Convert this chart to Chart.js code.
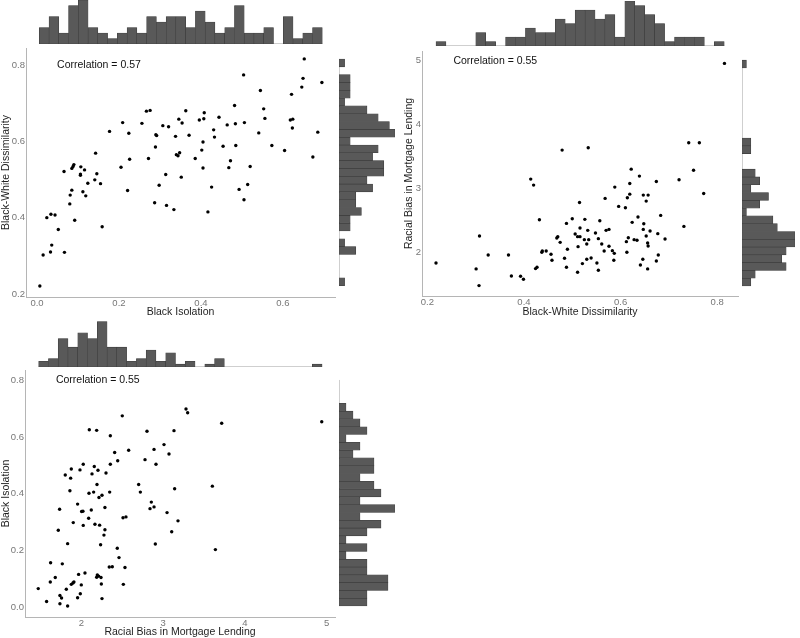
<!DOCTYPE html>
<html><head><meta charset="utf-8">
<script src="https://cdn.jsdelivr.net/npm/chart.js@4.4.1/dist/chart.umd.min.js"></script>
<style>
html,body{margin:0;padding:0;background:#fff;}
body{width:800px;height:638px;position:relative;overflow:hidden;}
canvas{position:absolute;display:block;}
</style></head><body>
<canvas id="h1t"></canvas><canvas id="sc1"></canvas><canvas id="h1r"></canvas>
<canvas id="h2t"></canvas><canvas id="sc2"></canvas><canvas id="h2r"></canvas>
<canvas id="h3t"></canvas><canvas id="sc3"></canvas><canvas id="h3r"></canvas>
<script>
// ---------- Data: panel 1 (Black Isolation vs Black-White Dissimilarity) ----------
const isolation1 = [0.652,0.695,0.649,0.646,0.504,0.545,0.621,0.553,0.556,0.482,0.484,0.506,0.618,0.624,0.623,0.541,0.685,0.573,0.604,0.673,0.408,0.363,0.396,0.407,0.346,0.354,0.444,0.431,0.433,0.464,0.454,0.485,0.405,0.402,0.371,0.338,0.307,0.321,0.267,0.276,0.256,0.290,0.292,0.289,0.209,0.177,0.224,0.143,0.340,0.348,0.344,0.386,0.272,0.226,0.472,0.468,0.520,0.514,0.493,0.505,0.405,0.426,0.417,0.352,0.314,0.298,0.316,0.334,0.287,0.205,0.221,0.146,0.141,0.155,0.124,0.159,0.107,0.106,0.106,0.116,0.112,0.119,0.066,0.085,0.088,0.090,0.085,0.081,0.080,0.092,0.067,0.052,0.036,0.033,0.034,0.044,0.024,0.015,0.007];
const dissimilarity1 = [0.816,0.754,0.765,0.742,0.774,0.733,0.723,0.685,0.660,0.694,0.646,0.649,0.656,0.658,0.635,0.622,0.624,0.589,0.576,0.559,0.675,0.680,0.656,0.659,0.658,0.648,0.663,0.630,0.611,0.643,0.587,0.589,0.598,0.577,0.616,0.613,0.641,0.638,0.679,0.681,0.647,0.617,0.615,0.585,0.649,0.626,0.621,0.569,0.565,0.570,0.562,0.555,0.555,0.553,0.549,0.531,0.534,0.487,0.474,0.447,0.530,0.480,0.415,0.506,0.513,0.485,0.432,0.421,0.439,0.532,0.471,0.515,0.499,0.489,0.490,0.376,0.533,0.514,0.511,0.525,0.468,0.457,0.521,0.529,0.534,0.539,0.472,0.459,0.436,0.393,0.309,0.369,0.328,0.310,0.409,0.407,0.400,0.302,0.221];
const histTop1Counts = [3,5,2,7,8,3,2,1,2,3,2,5,4,5,5,3,6,4,2,3,7,2,2,3,0,5,1,2,3];
const histTop1Bins = [0.0056, 0.696];
const histRight1Counts = [1,0,0,0,3,1,0,2,2,4,3,3,6,5,8,8,6,7,2,10,9,7,5,1,2,2,2,0,1];
const histRight1Bins = [0.2217, 0.8157];
const xTicks1 = [0, 0.2, 0.4, 0.6];
const yTicks1 = [0.2, 0.4, 0.6, 0.8];
const corr1 = "Correlation = 0.57";

// ---------- Data: panel 2 (Black-White Dissimilarity vs Racial Bias) ----------
const dissimilarity2 = [0.815,0.479,0.533,0.741,0.763,0.622,0.639,0.751,0.721,0.674,0.619,0.772,0.588,0.414,0.420,0.619,0.614,0.647,0.657,0.653,0.568,0.515,0.596,0.610,0.683,0.636,0.624,0.648,0.647,0.661,0.653,0.677,0.628,0.634,0.692,0.616,0.612,0.656,0.657,0.613,0.731,0.678,0.674,0.646,0.641,0.656,0.500,0.526,0.557,0.488,0.432,0.516,0.532,0.576,0.570,0.548,0.506,0.511,0.516,0.470,0.468,0.475,0.525,0.534,0.554,0.530,0.561,0.576,0.512,0.490,0.566,0.583,0.587,0.456,0.458,0.446,0.437,0.438,0.368,0.484,0.488,0.539,0.530,0.586,0.521,0.551,0.554,0.511,0.427,0.424,0.393,0.399,0.374,0.326,0.308,0.301,0.307,0.218];
const bias2 = [4.958,3.600,3.637,3.716,3.716,3.302,3.193,3.286,3.135,3.109,3.078,2.922,3.021,3.146,3.052,2.911,2.854,2.896,2.896,2.802,2.844,2.781,2.719,2.698,2.578,2.552,2.469,2.448,2.359,2.333,2.255,2.292,2.198,2.188,2.208,2.229,2.167,2.146,2.099,2.000,2.406,1.958,1.865,1.891,1.802,1.740,2.526,2.516,2.495,2.453,2.510,2.380,2.344,2.359,2.344,2.302,2.286,2.245,2.245,2.245,2.224,2.156,2.198,2.198,2.214,2.130,2.130,2.094,2.089,2.047,2.021,2.026,1.984,1.969,1.875,2.021,2.000,2.021,1.958,1.906,1.766,1.911,1.891,1.875,1.823,1.833,1.719,1.688,1.766,1.745,1.625,1.578,1.630,1.958,2.255,1.740,1.479,1.833];
const histTop2Counts = [1,0,0,0,3,1,0,2,2,4,3,3,6,5,8,8,6,7,2,10,9,7,5,1,2,2,2,0,1];
const histTop2Bins = [0.218, 0.8145];
const histRight2Counts = [2,3,10,9,10,12,12,8,7,1,4,6,2,4,3,0,0,2,2,0,0,0,0,0,0,0,0,0,1];
const histRight2Bins = [1.473, 5.009];
const xTicks2 = [0.2, 0.4, 0.6, 0.8];
const yTicks2 = [2, 3, 4, 5];
const corr2 = "Correlation = 0.55";

// ---------- Data: panel 3 (Racial Bias vs Black Isolation) ----------
const bias3 = [4.939,3.716,3.280,3.300,2.501,2.098,2.188,2.355,2.803,3.133,2.408,2.579,2.889,3.011,3.072,2.445,2.779,2.913,2.355,2.024,1.878,1.984,2.159,2.204,2.131,2.302,1.804,1.870,2.701,2.722,3.602,3.141,1.861,2.192,2.094,2.151,2.216,2.253,2.347,1.955,1.735,2.122,2.004,2.020,2.289,2.856,2.840,2.889,3.048,3.182,1.902,2.090,2.024,2.167,2.224,2.546,2.510,2.289,2.277,1.719,3.105,1.833,2.236,2.905,3.639,2.440,2.461,1.625,1.768,2.342,2.379,2.534,1.967,2.045,2.196,2.212,2.188,2.241,1.682,1.621,2.245,2.514,2.000,1.878,1.898,1.910,1.817,1.474,1.739,1.759,1.988,1.955,2.253,1.576,1.739,1.833];
const isolation3 = [0.653,0.648,0.698,0.685,0.674,0.625,0.623,0.604,0.620,0.622,0.545,0.553,0.556,0.573,0.540,0.516,0.520,0.504,0.504,0.504,0.487,0.484,0.496,0.483,0.470,0.473,0.466,0.455,0.433,0.406,0.427,0.418,0.411,0.433,0.402,0.406,0.387,0.395,0.406,0.364,0.346,0.343,0.338,0.339,0.352,0.371,0.348,0.354,0.334,0.305,0.299,0.314,0.289,0.293,0.290,0.319,0.316,0.274,0.255,0.272,0.267,0.225,0.221,0.224,0.204,0.209,0.176,0.158,0.154,0.143,0.144,0.141,0.117,0.122,0.115,0.111,0.107,0.106,0.106,0.090,0.083,0.082,0.080,0.082,0.087,0.090,0.065,0.067,0.043,0.034,0.049,0.035,0.032,0.022,0.014,0.006];
const histTop3Counts = [2,3,10,7,12,10,16,7,7,2,3,6,2,5,1,2,0,1,3,0,0,0,0,0,0,0,0,0,1];
const histTop3Bins = [1.479, 4.943];
const histRight3Counts = [4,4,7,7,4,4,1,4,1,4,6,3,8,3,6,5,3,5,5,2,3,1,4,3,2,1,0,0,0];
const histRight3Bins = [0.006, 0.800];
const xTicks3 = [2, 3, 4, 5];
const yTicks3 = [0, 0.2, 0.4, 0.6, 0.8];
const corr3 = "Correlation = 0.55";

// ---------- Styles ----------
const FONT = "'Liberation Sans', Arial, Helvetica, sans-serif";
const AXIS_COLOR = '#b5b5b5', TICK_COLOR = '#777777', TITLE_COLOR = '#1e1e1e';
const BAR_FILL = '#595959', BAR_EDGE = '#3c3c3c', BASE_COLOR = '#cfcfcf';

function place(id, box) {
  const c = document.getElementById(id);
  c.width = box.w; c.height = box.h;
  c.style.left = box.x + 'px'; c.style.top = box.y + 'px';
  c.style.width = box.w + 'px'; c.style.height = box.h + 'px';
  return c;
}

const corrPlugin = {
  id: 'corr',
  afterDatasetsDraw(chart, args, o) {
    const {ctx, scales} = chart;
    ctx.save();
    ctx.font = '10.5px ' + FONT;
    ctx.fillStyle = '#111';
    ctx.textAlign = 'left';
    ctx.textBaseline = 'middle';
    ctx.fillText(o.text, scales.x.getPixelForValue(o.x), scales.y.getPixelForValue(o.y));
    ctx.restore();
  }
};

const baselinePlugin = {
  id: 'baseline',
  beforeDatasetsDraw(chart, args, o) {
    const {ctx} = chart;
    const horiz = chart.options.indexAxis === 'y';
    const iS = horiz ? chart.scales.y : chart.scales.x;
    const vS = horiz ? chart.scales.x : chart.scales.y;
    const a = iS.getPixelForValue(o.from), b = iS.getPixelForValue(o.to), z = vS.getPixelForValue(0);
    ctx.save();
    ctx.strokeStyle = BASE_COLOR; ctx.lineWidth = 1;
    ctx.beginPath();
    if (horiz) { ctx.moveTo(z + 0.5, a); ctx.lineTo(z + 0.5, b); }
    else { ctx.moveTo(a, z - 0.5); ctx.lineTo(b, z - 0.5); }
    ctx.stroke();
    ctx.restore();
  }
};

function scatterChart(cfg) {
  const c = place(cfg.id, cfg.box);
  return new Chart(c, {
    type: 'scatter',
    data: {datasets: [{
      data: cfg.xs.map((v, i) => ({x: v, y: cfg.ys[i]})),
      pointRadius: 1.7, pointHoverRadius: 1.7,
      backgroundColor: '#000', borderWidth: 0
    }]},
    options: {
      responsive: false, animation: false, events: [],
      layout: {padding: cfg.pad},
      plugins: {legend: {display: false}, tooltip: {enabled: false},
                corr: {text: cfg.corrText, x: cfg.corrAt[0], y: cfg.corrAt[1]}},
      scales: {
        x: {
          type: 'linear', position: 'bottom', min: cfg.xRange[0], max: cfg.xRange[1],
          afterBuildTicks: s => { s.ticks = cfg.xTicks.map(v => ({value: v})); },
          afterFit: s => { s.height = cfg.xH; },
          grid: {display: false, drawTicks: false},
          border: {display: true, color: AXIS_COLOR, width: 1},
          ticks: {padding: 1, color: TICK_COLOR, font: {family: FONT, size: 9.5},
                  maxRotation: 0, autoSkip: false, callback: v => cfg.xFmt(v)},
          title: {display: true, text: cfg.xTitle, color: TITLE_COLOR,
                  font: {family: FONT, size: 10.5}, padding: {top: 0, bottom: cfg.xTitlePad}}
        },
        y: {
          type: 'linear', position: 'left', min: cfg.yRange[0], max: cfg.yRange[1],
          afterBuildTicks: s => { s.ticks = cfg.yTicks.map(v => ({value: v})); },
          afterFit: s => { s.width = cfg.yW; },
          grid: {display: false, drawTicks: false},
          border: {display: true, color: AXIS_COLOR, width: 1},
          ticks: {padding: 1, color: TICK_COLOR, font: {family: FONT, size: 9.5},
                  autoSkip: false, callback: v => cfg.yFmt(v)},
          title: {display: true, text: cfg.yTitle, color: TITLE_COLOR,
                  font: {family: FONT, size: 10.5}, padding: {top: cfg.yTitlePad, bottom: 0}}
        }
      }
    },
    plugins: [corrPlugin]
  });
}

function histChart(cfg) {
  const c = place(cfg.id, cfg.box);
  const n = cfg.counts.length, w = (cfg.bins[1] - cfg.bins[0]) / n;
  const horiz = cfg.horizontal;
  const pts = cfg.counts.map((k, i) => {
    const mid = cfg.bins[0] + w * (i + 0.5);
    return horiz ? {x: k, y: mid} : {x: mid, y: k};
  });
  const idxScale = {type: 'linear', display: false, min: cfg.range[0], max: cfg.range[1], offset: false,
                    afterBuildTicks: s => { s.ticks = [{value: s.min}, {value: s.max}]; }};
  const valScale = {type: 'linear', display: false, min: 0, max: cfg.max};
  return new Chart(c, {
    type: 'bar',
    data: {datasets: [{data: pts, backgroundColor: BAR_FILL, borderColor: BAR_EDGE, borderWidth: 0.6,
                       borderSkipped: false, barPercentage: 1, categoryPercentage: 1}]},
    options: {
      indexAxis: horiz ? 'y' : 'x',
      responsive: false, animation: false, events: [],
      layout: {padding: 0},
      plugins: {legend: {display: false}, tooltip: {enabled: false},
                baseline: {from: cfg.bins[0], to: cfg.bins[1]}},
      scales: horiz ? {y: idxScale, x: valScale} : {x: idxScale, y: valScale}
    },
    plugins: [baselinePlugin]
  });
}

const dec1 = v => Number(v).toFixed(1);
const int0 = v => String(Math.round(v));

// ---------- Panel 1 ----------
const r1x = [-0.0268, 0.727], r1y = [0.192, 0.8445];
scatterChart({id: 'sc1', box: {x: 0, y: 40, w: 337, h: 279}, pad: {left: 0, top: 8, right: 2, bottom: 0},
  xs: isolation1, ys: dissimilarity1, xRange: r1x, yRange: r1y, xTicks: xTicks1, yTicks: yTicks1,
  xFmt: dec1, yFmt: dec1, xTitle: 'Black Isolation', yTitle: 'Black-White Dissimilarity',
  xH: 22, yW: 26, xTitlePad: 1, yTitlePad: 0, corrText: corr1, corrAt: [0.049, 0.8]});
histChart({id: 'h1t', box: {x: 26, y: 0, w: 309, h: 44}, counts: histTop1Counts, bins: histTop1Bins,
  range: r1x, max: 8, horizontal: false});
histChart({id: 'h1r', box: {x: 339, y: 48, w: 56, h: 249}, counts: histRight1Counts, bins: histRight1Bins,
  range: r1y, max: 10, horizontal: true});

// ---------- Panel 2 ----------
const r2x = [0.189, 0.843], r2y = [1.316, 5.152];
scatterChart({id: 'sc2', box: {x: 400, y: 40, w: 340, h: 279}, pad: {left: 0, top: 11, right: 2, bottom: 0},
  xs: dissimilarity2, ys: bias2, xRange: r2x, yRange: r2y, xTicks: xTicks2, yTicks: yTicks2,
  xFmt: dec1, yFmt: int0, xTitle: 'Black-White Dissimilarity', yTitle: 'Racial Bias in Mortgage Lending',
  xH: 23, yW: 22, xTitlePad: 0.5, yTitlePad: 2.7, corrText: corr2, corrAt: [0.254, 5.0]});
histChart({id: 'h2t', box: {x: 422, y: 1, w: 316, h: 45}, counts: histTop2Counts, bins: histTop2Bins,
  range: r2x, max: 10, horizontal: false});
histChart({id: 'h2r', box: {x: 742, y: 51, w: 53, h: 245}, counts: histRight2Counts, bins: histRight2Bins,
  range: r2y, max: 12, horizontal: true});

// ---------- Panel 3 ----------
const r3x = [1.312, 5.101], r3y = [-0.0327, 0.835];
scatterChart({id: 'sc3', box: {x: 0, y: 362, w: 337, h: 276}, pad: {left: 0, top: 8, right: 2, bottom: 0},
  xs: bias3, ys: isolation3, xRange: r3x, yRange: r3y, xTicks: xTicks3, yTicks: yTicks3,
  xFmt: int0, yFmt: dec1, xTitle: 'Racial Bias in Mortgage Lending', yTitle: 'Black Isolation',
  xH: 21, yW: 25, xTitlePad: 0, yTitlePad: 0, corrText: corr3, corrAt: [1.69, 0.8]});
histChart({id: 'h3t', box: {x: 25, y: 321, w: 310, h: 46}, counts: histTop3Counts, bins: histTop3Bins,
  range: r3x, max: 16.2, horizontal: false});
histChart({id: 'h3r', box: {x: 339, y: 370, w: 56, h: 247}, counts: histRight3Counts, bins: histRight3Bins,
  range: r3y, max: 8, horizontal: true});
</script>
</body></html>
